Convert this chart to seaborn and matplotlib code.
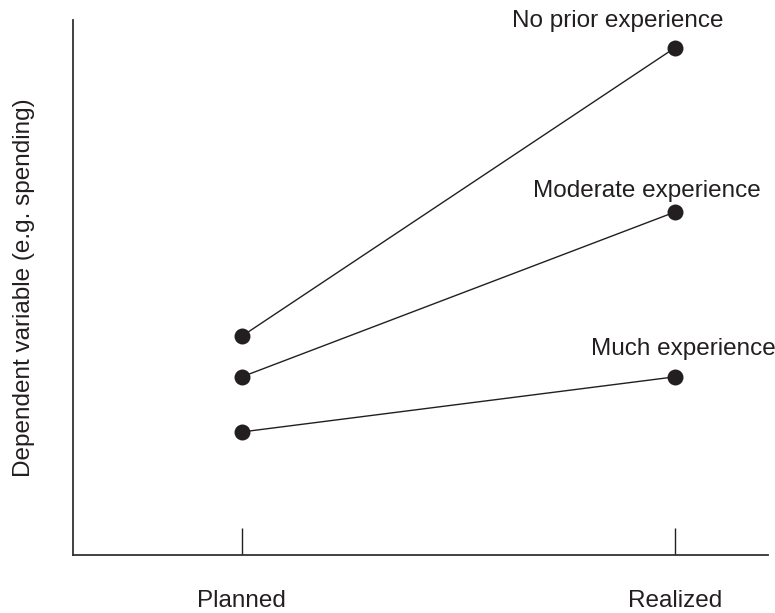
import pandas as pd
import seaborn as sns
import matplotlib.pyplot as plt

# arbitrary units (0 = bottom of the axis, 100 = top)
stages = ["Planned", "Realized"]
groups = ["No prior experience", "Moderate experience", "Much experience"]
no_prior = [40.9, 94.8]
moderate = [33.3, 64.1]
much = [23.0, 33.3]

INK = "#231f20"
FS = 17.5

df = pd.DataFrame({
    "stage": stages * 3,
    "group": [g for g in groups for _ in stages],
    "value": no_prior + moderate + much,
})

sns.set_style("white")
plt.rcParams["font.family"] = ["Liberation Sans", "DejaVu Sans"]

fig = plt.figure(figsize=(7.75, 6.13), dpi=100)
ax = fig.add_axes([73 / 775, 1 - 555 / 613, (768 - 73) / 775, (555 - 20) / 613])

sns.lineplot(data=df, x="stage", y="value", hue="group", hue_order=groups,
             palette=[INK] * 3, marker="o", markersize=11.5, markeredgewidth=0,
             linewidth=1.0, legend=False, ax=ax)

ax.set_xlim(-0.39, 1.215)
ax.set_ylim(0, 100)

# group labels sit just above the right-hand point of each line
offsets = [(-41, 15), (-20, 10.8), (5.8, 15.8)]
for g, vals, off in zip(groups, [no_prior, moderate, much], offsets):
    ax.annotate(g, xy=(1, vals[1]), xytext=off, textcoords="offset points",
                ha="center", va="baseline", fontsize=FS, color=INK)

sns.despine(ax=ax)
for side in ["left", "bottom"]:
    ax.spines[side].set_linewidth(1.3)
    ax.spines[side].set_color("#333333")

ax.set_yticks([])
ax.tick_params(axis="x", direction="in", length=19.5, width=1.0,
               colors=INK, pad=25, labelsize=FS, bottom=True)
ax.set_xlabel("")
ax.set_ylabel("Dependent variable (e.g. spending)", fontsize=FS,
              color=INK, labelpad=27)

fig.savefig("out.png", dpi=100)
